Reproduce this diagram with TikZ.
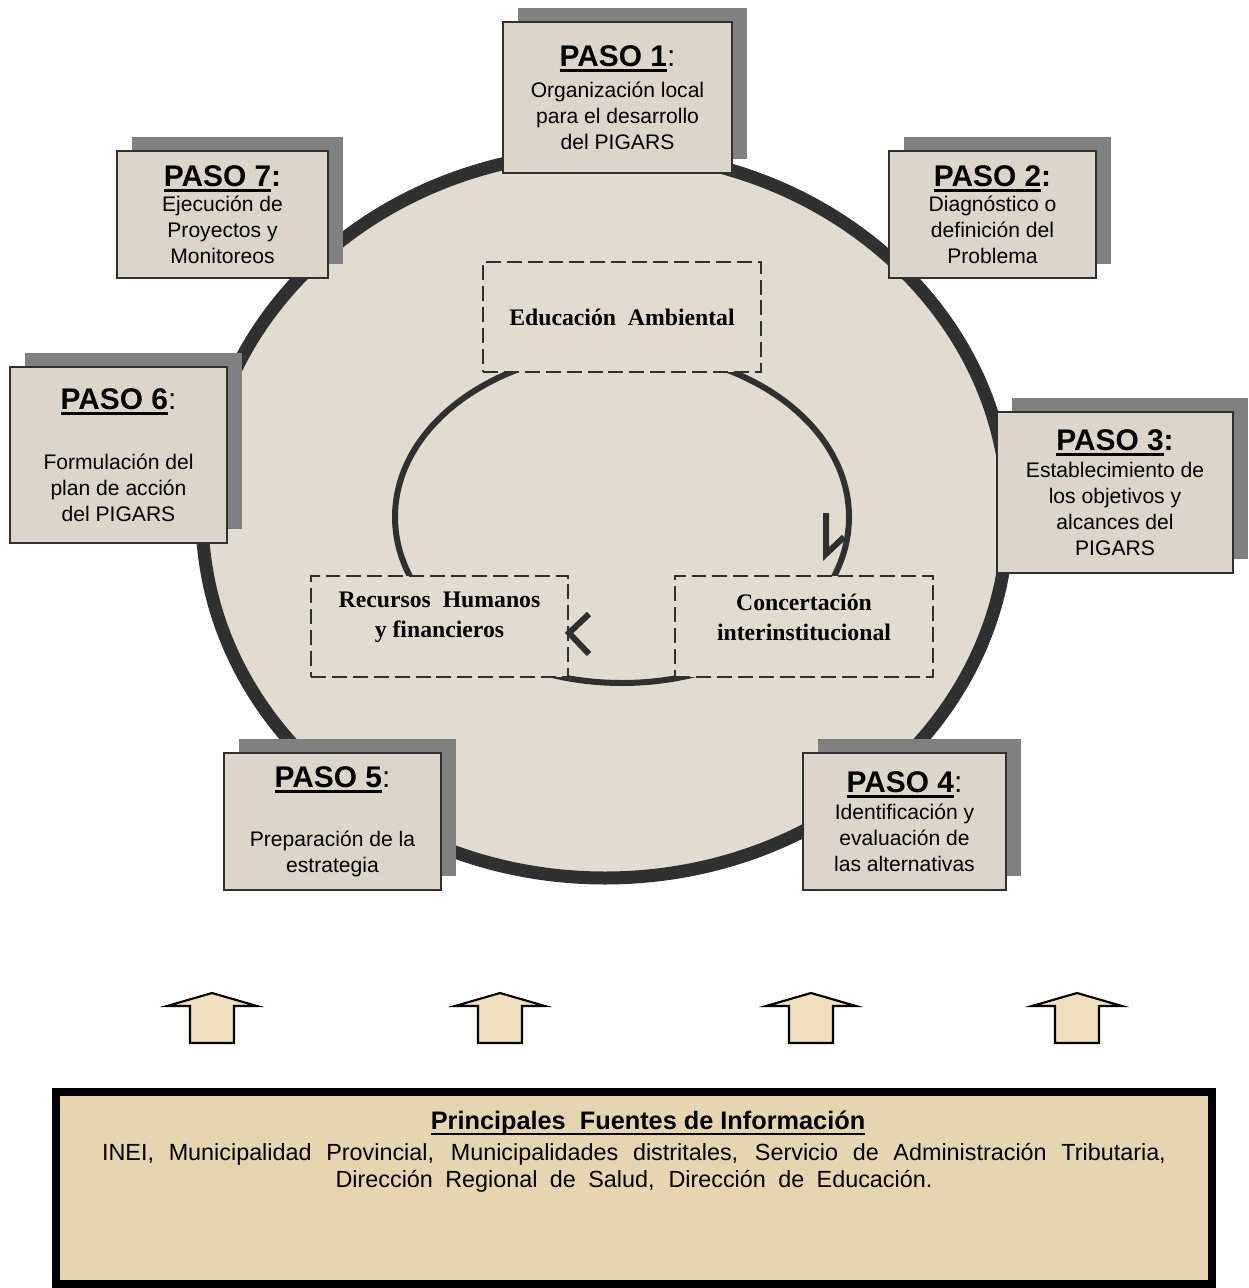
\documentclass[tikz,border=0pt]{standalone}
\usepackage{fontspec}
\setmainfont{Liberation Sans}
\newfontfamily\timesfont{Liberation Serif}
\usepackage{xcolor}
\usetikzlibrary{calc}
\usetikzlibrary{shadows}

\definecolor{anillo}{HTML}{303030}
\definecolor{fondo}{HTML}{E2DBD0}
\definecolor{cajafondo}{HTML}{DDD5C9}
\definecolor{sombragris}{HTML}{808080}
\definecolor{pergamino}{HTML}{E7D5B2}
\definecolor{flechafondo}{HTML}{F0DFBC}

\newcommand{\subraya}[2][1.8pt]{{\leavevmode\setbox0=\hbox{#2}\rlap{\rule[-3.4pt]{\wd0}{#1}}\box0}}
\newcommand{\paso}[2]{{\fontsize{17}{19}\selectfont{\bfseries\subraya{PASO #1}}#2}}

\begin{document}
\begin{tikzpicture}[x=0.02cm,y=-0.02cm]

\tikzset{
    caja/.style = {
    draw=anillo, line width=1.3pt, fill=cajafondo,
    align=center, inner sep=0pt,
    font=\fontsize{12}{14.7}\selectfont,
    drop shadow={shadow xshift=0.3cm, shadow yshift=0.28cm, fill=sombragris, opacity=1}
    }
}

\tikzstyle{eje}=[draw=anillo, line width=1.1pt, dash pattern=on 8.5pt off 3.4pt, fill=fondo]
\tikzstyle{ejetexto}=[align=center, font=\timesfont\bfseries\fontsize{13.5}{17}\selectfont]
\tikzstyle{ciclo}=[draw=anillo, line width=0.12cm]

\useasboundingbox (0,0) rectangle (1248,1288);

% circulo grande
\draw[anillo, line width=0.26cm, fill=fondo] (605,515) ellipse [x radius=403, y radius=363];

% ciclo interior
\draw[ciclo] (622,517) ellipse [x radius=227, y radius=166];

\node (edu) [eje, minimum width=5.56cm, minimum height=2.2cm] at (622,317) {};
\node (rec) [eje, minimum width=5.14cm, minimum height=2.02cm] at (439.5,626.5) {};
\node (con) [eje, minimum width=5.16cm, minimum height=2.02cm] at (804,626.5) {};

\node (edu-t) [ejetexto] at (edu.center) {Educación~~Ambiental};
\node (rec-t) [ejetexto] at ($(rec.center)+(0,-9)$) {Recursos~~Humanos\\y financieros};
\node (con-t) [ejetexto] at ($(con.center)+(0,-9)$) {Concertación\\interinstitucional};

\draw[ciclo, line join=miter] (826,513) -- (826,554) -- (844,537);
\draw[ciclo, line join=miter] (589,614) -- (569,633) -- (589,654);

% pasos
\node (paso-1) [caja, minimum width=4.58cm, minimum height=3.02cm] at (617.5,97.5)
    {\paso{1}{:}\\[3pt]Organización local\\para el desarrollo\\del PIGARS};
\node (paso-2) [caja, minimum width=4.14cm, minimum height=2.54cm] at (992.5,214.5)
    {\paso{2}{\textbf{:}}\\Diagnóstico o\\definición del\\Problema};
\node (paso-3) [caja, minimum width=4.72cm, minimum height=3.22cm] at (1115,492.5)
    {\paso{3}{\textbf{:}}\\[1pt]Establecimiento de\\los objetivos y\\alcances del\\PIGARS};
\node (paso-4) [caja, minimum width=4.06cm, minimum height=2.74cm] at (904.5,821.5)
    {\paso{4}{:}\\[1pt]Identificación y\\evaluación de\\las alternativas};
\node (paso-5) [caja, minimum width=4.34cm, minimum height=2.74cm] at (332.5,821.5)
    {\paso{5}{:}\\[19pt]Preparación de la\\estrategia};
\node (paso-6) [caja, minimum width=4.34cm, minimum height=3.52cm] at (118.5,455)
    {\paso{6}{:}\\[20pt]Formulación del\\plan de acción\\del PIGARS};
\node (paso-7) [caja, minimum width=4.22cm, minimum height=2.54cm] at (222.5,214.5)
    {\paso{7}{\textbf{:}}\\Ejecución de\\Proyectos y\\Monitoreos};

% flechas hacia arriba
\foreach \cx in {212,500,811,1077}{
    \draw[line width=1.2pt, fill=flechafondo, line join=miter]
        (\cx-22,1043) -- (\cx-22,1006) -- (\cx-45,1006) -- (\cx,993)
        -- (\cx+45,1006) -- (\cx+22,1006) -- (\cx+22,1043) -- cycle;
}

% fuentes
\node (fuentes) [draw, line width=0.16cm, fill=pergamino, minimum width=23.12cm, minimum height=3.84cm] at (634,1188) {};
\node (fuentes-t) [anchor=base, font=\fontsize{14.4}{16}\selectfont\bfseries] at (648,1129)
    {\subraya[1.4pt]{Principales~ Fuentes de Información}};
\node (fuentes-1) [anchor=base, font=\fontsize{13.3}{16}\selectfont] at (634,1160)
    {\makebox[21.28cm][s]{INEI, Municipalidad Provincial, Municipalidades distritales, Servicio de Administración Tributaria,}};
\node (fuentes-2) [anchor=base, font=\fontsize{13.3}{16}\selectfont] at (634,1187)
    {\makebox[11.94cm][s]{Dirección Regional de Salud, Dirección de Educación.}};

\end{tikzpicture}
\end{document}
